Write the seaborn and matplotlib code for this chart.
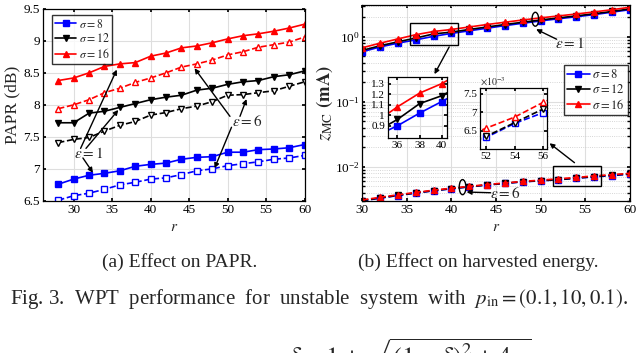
import matplotlib
matplotlib.use('Agg')
import matplotlib.pyplot as plt
import seaborn as sns
import numpy as np
from matplotlib.patches import Rectangle, Ellipse

# ---- data ----
r_papr = [28, 30, 32, 34, 36, 38, 40, 42, 44, 46, 48, 50, 52, 54, 56, 58, 60]
papr_s8_e1 = [6.76, 6.84, 6.90, 6.93, 6.97, 7.04, 7.07, 7.09, 7.15, 7.18, 7.19, 7.26, 7.26, 7.30, 7.31, 7.33, 7.38]
papr_s8_e6 = [6.51, 6.58, 6.62, 6.68, 6.75, 6.79, 6.84, 6.86, 6.91, 6.97, 7.00, 7.05, 7.08, 7.11, 7.15, 7.17, 7.21]
papr_s12_e1 = [7.72, 7.72, 7.87, 7.90, 7.96, 8.02, 8.08, 8.12, 8.15, 8.23, 8.26, 8.32, 8.36, 8.38, 8.44, 8.47, 8.53]
papr_s12_e6 = [7.41, 7.46, 7.49, 7.59, 7.68, 7.74, 7.84, 7.88, 7.94, 7.98, 8.05, 8.15, 8.16, 8.19, 8.22, 8.29, 8.36]
papr_s16_e1 = [8.38, 8.42, 8.50, 8.60, 8.64, 8.66, 8.76, 8.81, 8.89, 8.92, 8.97, 9.03, 9.08, 9.11, 9.15, 9.20, 9.26]
papr_s16_e6 = [7.94, 8.00, 8.08, 8.19, 8.26, 8.35, 8.42, 8.50, 8.59, 8.64, 8.70, 8.78, 8.83, 8.90, 8.94, 8.98, 9.06]

r_mc = [30, 32, 34, 36, 38, 40, 42, 44, 46, 48, 50, 52, 54, 56, 58, 60]
mc_s8_e1 = [0.59, 0.70, 0.80, 0.90, 1.02, 1.13, 1.24, 1.36, 1.49, 1.62, 1.76, 1.90, 2.04, 2.20, 2.40, 2.62]
mc_s12_e1 = [0.62, 0.73, 0.84, 0.96, 1.11, 1.185, 1.30, 1.42, 1.55, 1.68, 1.82, 1.96, 2.10, 2.27, 2.46, 2.70]
mc_s16_e1 = [0.68, 0.80, 0.93, 1.08, 1.21, 1.30, 1.42, 1.55, 1.68, 1.82, 1.96, 2.10, 2.25, 2.42, 2.62, 2.85]
mc_s8_e6 = [0.00300, 0.00330, 0.00362, 0.00395, 0.00428, 0.00460, 0.00492, 0.00525, 0.00556, 0.00588, 0.00610, 0.00632, 0.00670, 0.00699, 0.00735, 0.00770]
mc_s12_e6 = [0.00303, 0.00333, 0.00365, 0.00398, 0.00431, 0.00463, 0.00495, 0.00528, 0.00559, 0.00591, 0.00614, 0.00635, 0.00672, 0.00709, 0.00745, 0.00780]
mc_s16_e6 = [0.00310, 0.00340, 0.00372, 0.00405, 0.00438, 0.00470, 0.00502, 0.00535, 0.00566, 0.00598, 0.00625, 0.00657, 0.00687, 0.00727, 0.00760, 0.00795]

sigmas = ['8', '12', '16']
colors = ['#0000ff', '#000000', '#ff0000']
markers = ['s', 'v', '^']

sns.set_theme(style='whitegrid')
plt.rcParams['font.family'] = ['Liberation Serif', 'DejaVu Serif']
plt.rcParams['mathtext.fontset'] = 'stix'
plt.rcParams['axes.edgecolor'] = 'black'
plt.rcParams['grid.color'] = '#dedede'
plt.rcParams['grid.linewidth'] = 0.8

fig = plt.figure(figsize=(6.4, 3.53), dpi=100)
ax1 = fig.add_axes([0.067, 0.431, 0.409, 0.544])
ax2 = fig.add_axes([0.566, 0.431, 0.418, 0.555])


def style_axes(ax, fs=9.5):
    for s in ax.spines.values():
        s.set_color('black')
        s.set_linewidth(0.9)
    ax.tick_params(axis='both', which='both', direction='in', length=2.5,
                   labelsize=fs, colors='black', pad=2,
                   bottom=True, left=True, top=True, right=True)


def draw(ax, x, y, i, dashed, ms=4.0, open_face=False):
    face = 'white' if open_face else colors[i]
    sns.lineplot(x=x, y=y, ax=ax, color=colors[i], marker=markers[i],
                 linestyle='--' if dashed else '-', linewidth=1.2,
                 markersize=ms, markerfacecolor=face, markeredgecolor=colors[i],
                 markeredgewidth=1.0, label=None)


# ---- (a) PAPR ----
papr_e1 = [papr_s8_e1, papr_s12_e1, papr_s16_e1]
papr_e6 = [papr_s8_e6, papr_s12_e6, papr_s16_e6]
handles = []
for i in range(3):
    draw(ax1, r_papr, papr_e1[i], i, False)
    handles.append(ax1.lines[-1])
    draw(ax1, r_papr, papr_e6[i], i, True, open_face=True)
ax1.set_xlim(26, 60)
ax1.set_ylim(6.5, 9.5)
ax1.set_xticks([30, 35, 40, 45, 50, 55, 60])
ax1.set_yticks([6.5, 7, 7.5, 8, 8.5, 9, 9.5])
ax1.set_yticklabels(['6.5', '7', '7.5', '8', '8.5', '9', '9.5'])
ax1.set_xlabel('$r$', fontsize=11, labelpad=4)
ax1.set_ylabel('PAPR (dB)', fontsize=12.5, labelpad=2)
style_axes(ax1)
leg = ax1.legend(handles, [r'$\sigma = %s$' % s for s in sigmas], loc='upper left',
                 bbox_to_anchor=(0.035, 0.97), fontsize=8.5, frameon=True,
                 fancybox=False, edgecolor='black', handlelength=1.8,
                 handletextpad=0.2, borderpad=0.25, labelspacing=0.15,
                 borderaxespad=0.0)
leg.get_frame().set_linewidth(1.0)

arr = dict(arrowstyle='-|>', color='black', lw=1.0, mutation_scale=7, shrinkA=0, shrinkB=0)
ax1.text(32.0, 7.245, r'$\epsilon = 1$', fontsize=11, ha='center', va='center')
ax1.annotate('', xy=(35.6, 8.55), xytext=(30.9, 7.32), arrowprops=arr)
ax1.annotate('', xy=(35.8, 7.92), xytext=(31.6, 7.32), arrowprops=arr)
ax1.annotate('', xy=(32.5, 6.94), xytext=(31.2, 7.17), arrowprops=arr)
ax1.text(52.5, 7.74, r'$\epsilon = 6$', fontsize=11, ha='center', va='center')
ax1.annotate('', xy=(45.7, 8.57), xytext=(50.3, 7.82), arrowprops=arr)
ax1.annotate('', xy=(52.45, 8.09), xytext=(51.6, 7.82), arrowprops=arr)
ax1.annotate('', xy=(48.3, 7.01), xytext=(50.5, 7.65), arrowprops=arr)

# ---- (b) harvested energy ----
mc_e1 = [mc_s8_e1, mc_s12_e1, mc_s16_e1]
mc_e6 = [mc_s8_e6, mc_s12_e6, mc_s16_e6]
handles2 = []
for i in range(3):
    draw(ax2, r_mc, mc_e1[i], i, False)
    handles2.append(ax2.lines[-1])
    draw(ax2, r_mc, mc_e6[i], i, True)
ax2.set_yscale('log')
ax2.set_xlim(30, 60)
ax2.set_ylim(0.003, 3.1)
ax2.set_xticks([30, 35, 40, 45, 50, 55, 60])
ax2.set_xlabel('$r$', fontsize=11, labelpad=4)
ax2.set_ylabel(r'$z_{\rm MC}$ $\mathbf{(mA)}$', fontsize=13.5, labelpad=0)
ax2.grid(True, which='major', color='#dedede', linewidth=0.8)
ax2.grid(True, which='minor', axis='y', color='#c8c8c8', linewidth=0.6, linestyle=':')
style_axes(ax2)
leg2 = ax2.legend(handles2, [r'$\sigma = %s$' % s for s in sigmas], loc='upper left',
                  bbox_to_anchor=(0.754, 0.694), fontsize=9, frameon=True,
                  fancybox=False, edgecolor='black', handlelength=1.8,
                  handletextpad=0.2, borderpad=0.25, labelspacing=0.15,
                  borderaxespad=0.0)
leg2.get_frame().set_linewidth(1.0)

ax2.add_patch(Rectangle((35.4, 0.74), 5.3, 0.90, fill=False, edgecolor='black', lw=1.0, zorder=5))
ax2.add_patch(Rectangle((51.4, 0.0050), 5.4, 0.0054, fill=False, edgecolor='black', lw=1.0, zorder=5))
ax2.annotate('', xy=(38.1, 0.267), xytext=(39.75, 0.70), arrowprops=arr)
ax2.annotate('', xy=(51.0, 0.0231), xytext=(53.8, 0.0116), arrowprops=arr)

# ellipses placed in axes fractions so they stay round on the log axis
ax2.add_patch(Ellipse((0.647, 0.927), 0.025, 0.071, transform=ax2.transAxes,
                      fill=False, edgecolor='black', lw=1.0, zorder=6))
ax2.add_patch(Ellipse((0.375, 0.07), 0.025, 0.077, transform=ax2.transAxes,
                      fill=False, edgecolor='black', lw=1.0, zorder=6))
ax2.text(53.3, 0.80, r'$\epsilon = 1$', fontsize=11, ha='center', va='center')
ax2.annotate('', xy=(49.5, 1.31), xytext=(51.8, 0.92), arrowprops=arr)
ax2.text(46.0, 0.0039, r'$\epsilon = 6$', fontsize=11, ha='center', va='center')
ax2.annotate('', xy=(41.7, 0.0041), xytext=(44.4, 0.0040), arrowprops=arr)

# insets
in1 = fig.add_axes([0.606, 0.608, 0.092, 0.173])
for i in range(3):
    draw(in1, r_mc, mc_e1[i], i, False, ms=4.0)
in1.set_xlim(35.13, 40.45)
in1.set_ylim(0.78, 1.36)
in1.set_xticks([36, 38, 40])
in1.set_yticks([0.9, 1.0, 1.1, 1.2, 1.3])
in1.set_yticklabels(['0.9', '1', '1.1', '1.2', '1.3'])
in1.set_facecolor('white')
style_axes(in1, fs=8)
in1.set_xlabel('')
in1.set_ylabel('')

in2 = fig.add_axes([0.750, 0.577, 0.105, 0.173])
mc_e6_scaled = [[v * 1000 for v in s] for s in mc_e6]
for i in range(3):
    draw(in2, r_mc, mc_e6_scaled[i], i, True, ms=4.0, open_face=True)
in2.set_xlim(51.58, 56.28)
in2.set_ylim(6.0, 7.65)
in2.set_xticks([52, 54, 56])
in2.set_yticks([6.5, 7, 7.5])
in2.set_yticklabels(['6.5', '7', '7.5'])
in2.set_facecolor('white')
style_axes(in2, fs=8)
in2.set_xlabel('')
in2.set_ylabel('')
in2.text(0.0, 1.01, r'$\times10^{-3}$', transform=in2.transAxes, fontsize=7, va='bottom', ha='left')

# captions
fig.text(0.281, 0.258, '(a) Effect on PAPR.', fontsize=14, ha='center', va='center')
fig.text(0.748, 0.258, '(b) Effect on harvested energy.', fontsize=14, ha='center', va='center')
fig.text(0.015, 0.152, r'Fig. 3.  WPT  performance  for  unstable  system  with  $p_{\rm in} = (0.1, 10, 0.1)$.',
         fontsize=15, ha='left', va='center')
fig.text(0.64, 0.045, r'$\delta - 1 + \sqrt{(1-\delta)^2 + 4\cdot}$', fontsize=19, ha='center', va='top')

fig.savefig('out.png', dpi=100)
